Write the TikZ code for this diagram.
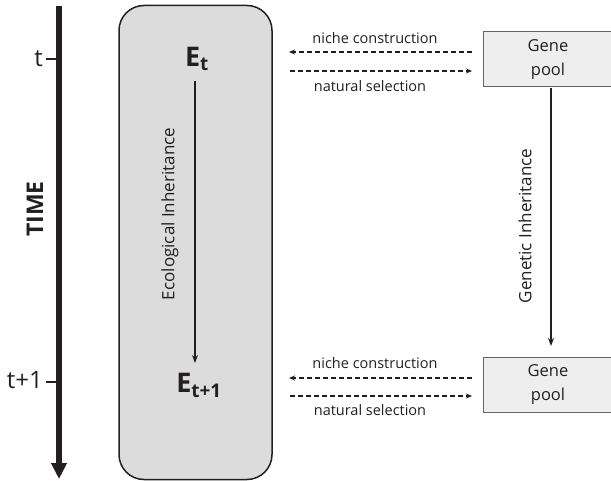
\documentclass[tikz,border=0pt]{standalone}
\usepackage{fontspec}
\setmainfont{Open Sans}
\usetikzlibrary{arrows.meta}
\definecolor{boxgray}{HTML}{DCDCDD}
\definecolor{genegray}{HTML}{EEEEEE}
\definecolor{ink}{HTML}{231F20}
\begin{document}
\begin{tikzpicture}[x=1pt,y=-1pt,
  lbl/.style={font=\fontsize{14.5}{17}\selectfont, text=ink},
  rotlbl/.style={font=\fontsize{17}{20}\selectfont, text=ink, rotate=90},
  genebox/.style={draw=ink!70, fill=genegray, line width=1pt, minimum width=130pt, minimum height=55pt, align=center, font=\fontsize{16.5}{24}\selectfont, text=ink, inner sep=0pt},
  dasharrow/.style={draw=ink, line width=1.4pt, dash pattern=on 5pt off 3pt, -{Stealth[length=6pt,width=5pt]}},
  solarrow/.style={draw=ink, line width=1.4pt, -{Stealth[length=8pt,width=6pt]}},
  tick/.style={draw=ink, line width=1.5pt},
  envlabel/.style={font=\bfseries\fontsize{27}{30}\selectfont, text=ink, inner sep=1pt}]
\useasboundingbox (0,0) rectangle (611,481);
% time axis
\coordinate (tstart) at (59,6);
\coordinate (tend) at (59,479);
\draw[draw=ink, line width=5.5pt, -{Triangle[length=16pt,width=15pt]}] (tstart) -- (tend);
\coordinate (tk1a) at (46,59); \coordinate (tk1b) at (57,59);
\coordinate (tk2a) at (46,382); \coordinate (tk2b) at (57,382);
\draw[tick] (tk1a) -- (tk1b);
\draw[tick] (tk2a) -- (tk2b);
\node[lbl, font=\fontsize{24}{26}\selectfont, anchor=east, inner sep=1pt] (tl1) at (44,59) {t};
\node[lbl, font=\fontsize{24}{26}\selectfont, anchor=east, inner sep=1pt] (tl2) at (44,380) {t+1};
\node[font=\bfseries\fontsize{23}{26}\selectfont, text=ink, rotate=90] (time) at (35,209) {TIME};
% ecological box
\node[draw=ink, line width=1.5pt, fill=boxgray, rounded corners=25pt, minimum width=153pt, minimum height=474pt, inner sep=0pt] (eco) at (195.5,242.5) {};
\node[envlabel] (et) at (197,59) {E\textsubscript{t}};
\node[envlabel] (et1) at (199,385) {E\textsubscript{t+1}};
\coordinate (ea) at (195,81);
\coordinate (eb) at (195,363);
\draw[solarrow] (ea) -- (eb);
\node[rotlbl] (ecolbl) at (170,214) {Ecological Inheritance};
% gene pools
\node[genebox] (g1) at (548,59.5) {Gene\\pool};
\node[genebox] (g2) at (548,384.5) {Gene\\pool};
\coordinate (ga) at (551,88);
\coordinate (gb) at (551,346);
\draw[solarrow] (ga) -- (gb);
\node[rotlbl] (genlbl) at (525,226) {Genetic Inheritance};
% dashed arrows top
\coordinate (n1s) at (472,52); \coordinate (n1e) at (289,52);
\coordinate (s1s) at (290,71); \coordinate (s1e) at (472,71);
\draw[dasharrow] (n1s) -- (n1e);
\draw[dasharrow] (s1s) -- (s1e);
\node[lbl] (nc1) at (375,38) {niche construction};
\node[lbl] (ns1) at (370,86) {natural selection};
% dashed arrows bottom
\coordinate (n2s) at (472,378); \coordinate (n2e) at (289,378);
\coordinate (s2s) at (290,396); \coordinate (s2e) at (472,396);
\draw[dasharrow] (n2s) -- (n2e);
\draw[dasharrow] (s2s) -- (s2e);
\node[lbl] (nc2) at (375,363) {niche construction};
\node[lbl] (ns2) at (370,410) {natural selection};
\end{tikzpicture}
\end{document}
